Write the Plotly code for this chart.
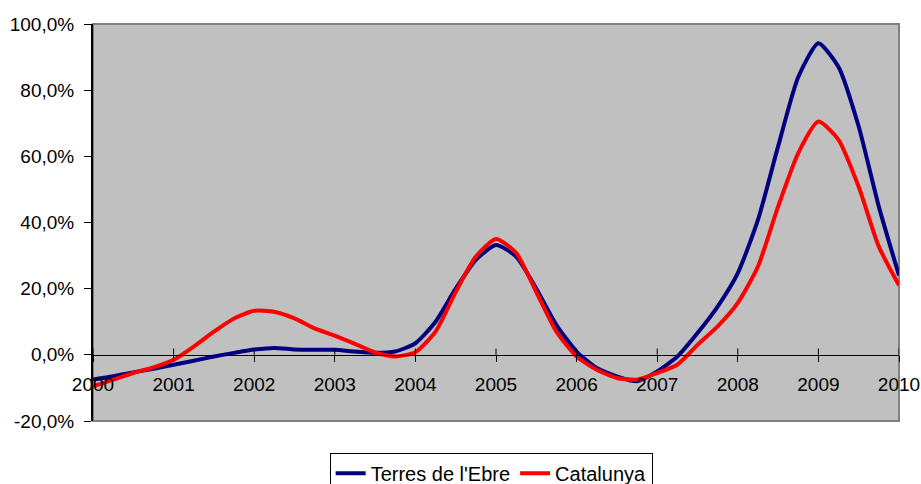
import plotly.graph_objects as go

quarters = [2000 + i * 0.25 for i in range(41)]

terres_ebre = [-7.5, -6.5, -5.3, -4.2, -3.0, -1.8, -0.5, 0.6, 1.6, 2.1, 1.6, 1.5,
               1.5, 1.0, 0.6, 1.0, 3.5, 10.0, 20.0, 28.7, 33.2, 29.7, 20.0, 9.0,
               1.0, -4.0, -6.5, -8.0, -5.0, -0.5, 6.6, 14.6, 24.7, 40.8, 63.0, 84.0,
               94.2, 87.0, 69.0, 44.8, 24.0]
catalunya = [-9.5, -7.5, -5.5, -3.8, -1.5, 2.5, 7.0, 11.0, 13.3, 13.0, 11.0, 8.0,
             5.8, 3.3, 0.7, -0.5, 0.8, 7.0, 19.0, 29.7, 35.0, 30.8, 19.0, 7.0,
             -0.5, -4.5, -7.0, -7.5, -5.5, -3.0, 3.0, 8.6, 15.7, 26.7, 44.8, 61.0,
             70.5, 65.0, 50.8, 32.7, 21.0]

year_ticks = list(range(2000, 2011))
y_ticks = [-20, 0, 20, 40, 60, 80, 100]
y_tick_text = ["-20,0%", "0,0%", "20,0%", "40,0%", "60,0%", "80,0%", "100,0%"]

fig = go.Figure()
fig.add_trace(go.Scatter(x=quarters, y=terres_ebre, name="Terres de l'Ebre", mode="lines",
                         line=dict(color="#000080", width=4, shape="spline", smoothing=0.6)))
fig.add_trace(go.Scatter(x=quarters, y=catalunya, name="Catalunya", mode="lines",
                         line=dict(color="#FF0000", width=4, shape="spline", smoothing=0.6)))

zero_pos = (0 - y_ticks[0]) / (y_ticks[-1] - y_ticks[0])

shapes = [dict(type="rect", xref="paper", yref="paper", x0=0, x1=1, y0=0, y1=1,
               line=dict(color="#808080", width=2), layer="below")]
for yr in year_ticks:
    shapes.append(dict(type="line", xref="x", yref="paper", x0=yr, x1=yr,
                       y0=zero_pos, y1=zero_pos + 0.016, line=dict(color="black", width=1)))

fig.update_layout(
    width=921, height=484,
    margin=dict(l=93, r=22, t=24, b=63, autoexpand=False),
    paper_bgcolor="white",
    plot_bgcolor="#C0C0C0",
    font=dict(family="Liberation Sans, Arial, sans-serif", size=19, color="black"),
    showlegend=True,
    legend=dict(orientation="h", x=0.494, xanchor="center", y=-0.080, yanchor="top",
                bordercolor="black", borderwidth=1, bgcolor="white",
                font=dict(size=20), itemwidth=30, tracegroupgap=0),
    shapes=shapes,
    xaxis=dict(range=[2000, 2010], tickvals=year_ticks, ticktext=[str(y) for y in year_ticks],
               showgrid=False, zeroline=False, showline=True, linecolor="black", linewidth=1,
               ticks="outside", ticklen=6, tickcolor="black", anchor="free", position=zero_pos,
               ticklabelstandoff=6, automargin=False),
    yaxis=dict(range=[-20, 100], tickvals=y_ticks, ticktext=y_tick_text,
               showgrid=False, zeroline=False, showline=True, linecolor="black", linewidth=2,
               ticks="outside", ticklen=7, tickcolor="black", ticklabelstandoff=6,
               automargin=False),
)

fig.write_html("out.html", config={"displayModeBar": False},
               post_script="document.body.style.margin='0';document.body.style.overflow='hidden';")
